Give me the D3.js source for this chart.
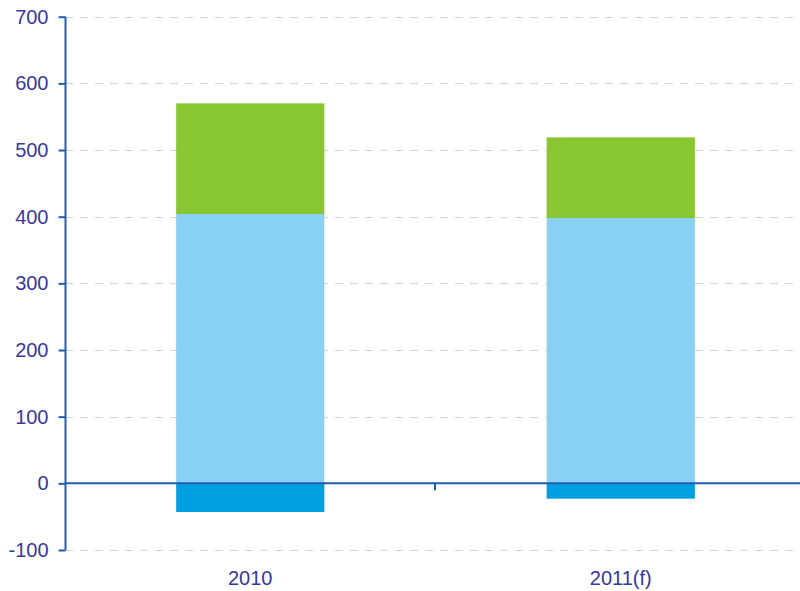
<!DOCTYPE html>
<html>
<head>
<meta charset="utf-8">
<script src="https://cdn.jsdelivr.net/npm/d3@7"></script>
<style>
  body { margin: 0; background: #fff; }
  svg { display: block; font-family: "Liberation Sans", Arial, sans-serif; }
</style>
</head>
<body>
<svg id="chart"></svg>
<script>
const width = 800
const height = 591

// data
const categories = ["2010", "2011(f)"]
const negativePart = [-43, -23]
const bluePart = [404, 398]
const greenPart = [166, 121]
const yTicks = [-100, 0, 100, 200, 300, 400, 500, 600, 700]

const textColor = "#38389c"
const axisColor = "#1f5db3"

const svg = d3.select("#chart").attr("width", width).attr("height", height)

const x = d3.scaleBand().domain(categories).range([65, 806]).padding(0)
const y = d3.scaleLinear().domain([-100, 700]).range([550, 16.7])

const barW = x.bandwidth() * 0.4

// dashed gridlines
svg.append("g")
  .selectAll("line")
  .data(yTicks.filter(d => d !== 0))
  .join("line")
  .attr("x1", 65)
  .attr("x2", 800)
  .attr("y1", d => Math.round(y(d)) + 0.5)
  .attr("y2", d => Math.round(y(d)) + 0.5)
  .attr("stroke", "#d4d4d4")
  .attr("stroke-dasharray", "8,7")

const stacks = categories.map((c, i) => [
  { cat: c, y0: 0, y1: negativePart[i], color: "#009fe1" },
  { cat: c, y0: 0, y1: bluePart[i], color: "#89d1f2" },
  { cat: c, y0: bluePart[i], y1: bluePart[i] + greenPart[i], color: "#88c731" }
]).flat()

svg.append("g")
  .selectAll("rect")
  .data(stacks)
  .join("rect")
  .attr("x", d => x(d.cat) + (x.bandwidth() - barW) / 2)
  .attr("width", barW)
  .attr("y", d => y(Math.max(d.y0, d.y1)))
  .attr("height", d => Math.abs(y(d.y0) - y(d.y1)))
  .attr("fill", d => d.color)

// y axis
const yAxis = svg.append("g")
  .attr("transform", "translate(65.5,0)")
  .call(d3.axisLeft(y).tickValues(yTicks).tickSize(7).tickPadding(10).tickFormat(d => String(d)))
yAxis.selectAll("path, line").attr("stroke", axisColor).attr("stroke-width", 2)
yAxis.select(".domain").attr("d", `M0,${y(700)}V${y(-100)}`)
yAxis.attr("font-size", 20).attr("font-family", "Liberation Sans, Arial, sans-serif")
yAxis.selectAll("text").attr("fill", textColor)

// x axis on zero line
const xAxis = svg.append("g")
  .attr("transform", `translate(0,${y(0)})`)
xAxis.append("line")
  .attr("x1", 65).attr("x2", 800)
  .attr("stroke", axisColor).attr("stroke-width", 2)
xAxis.selectAll(".sep")
  .data(categories.slice(1))
  .join("line")
  .attr("class", "sep")
  .attr("x1", d => x(d) - 0.5).attr("x2", d => x(d) - 0.5)
  .attr("y1", 0).attr("y2", 7)
  .attr("stroke", axisColor).attr("stroke-width", 2)

svg.append("g")
  .selectAll("text")
  .data(categories)
  .join("text")
  .attr("x", d => x(d) + x.bandwidth() / 2)
  .attr("y", 585)
  .attr("text-anchor", "middle")
  .attr("fill", textColor)
  .attr("font-size", 20)
  .text(d => d)
</script>
</body>
</html>
